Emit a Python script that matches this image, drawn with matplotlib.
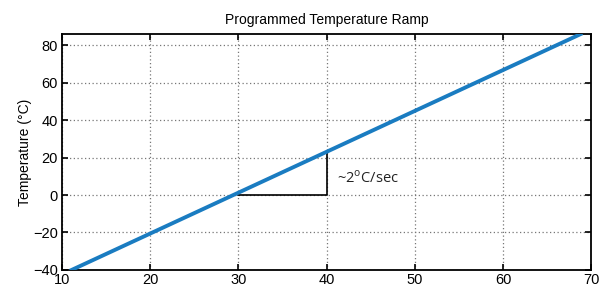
import matplotlib.pyplot as plt

plt.rcParams['font.family'] = ['Liberation Sans', 'DejaVu Sans']

# ramp data (time in seconds, temperature in C)
time_s = [11.1, 68.8]
temp_c = [-40, 86]

# slope triangle corners
tri_x = [30, 40, 40]
tri_y = [0, 0, 22]

fig = plt.figure(figsize=(6, 2.89), dpi=100)
ax = fig.add_axes([0.1033, 0.066, 0.882, 0.816])

ax.plot(time_s, temp_c, color='#1a7cc1', linewidth=2.8, zorder=3)
ax.plot(tri_x, tri_y, color='black', linewidth=1.2, zorder=2)
ax.text(41.2, 9, '~2$^\\mathregular{o}$C/sec', fontsize=10.5, family=['Open Sans', 'DejaVu Sans'],
        ha='left', va='center', color='#222222')

ax.set_xlim(10, 70)
ax.set_ylim(-40, 86)
ax.set_xticks(range(10, 71, 10))
ax.set_yticks(range(-40, 81, 20))
ax.set_yticklabels(['\u221240', '\u221220', '0', '20', '40', '60', '80'])

ax.grid(True, linestyle=(0, (1, 2)), color='#777777', linewidth=0.9)
ax.tick_params(direction='in', top=True, right=True, labelsize=10.5, length=4, width=1.2)
ax.tick_params(axis='x', pad=2)
ax.tick_params(axis='y', pad=3)
for spine in ax.spines.values():
    spine.set_linewidth(1.3)

ax.set_title('Programmed Temperature Ramp', fontsize=10, pad=7)
ax.set_ylabel('Temperature (\u00b0C)', fontsize=10, labelpad=1)

fig.savefig('out.png', dpi=100)
